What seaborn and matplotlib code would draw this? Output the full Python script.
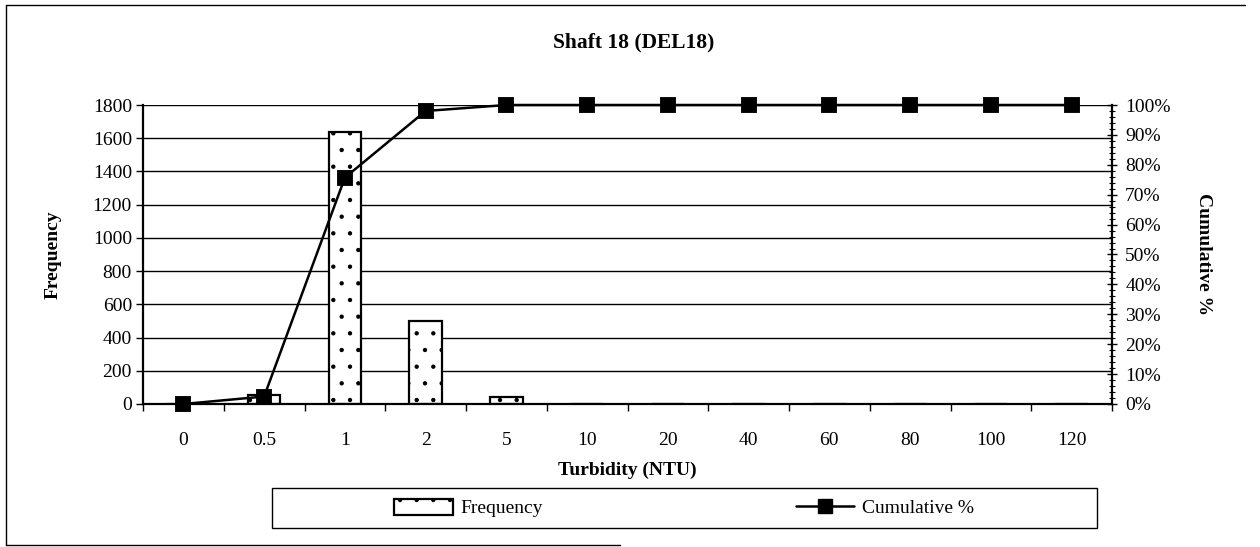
"""Turbidity histogram with cumulative % for Shaft 18 (DEL18)."""

import matplotlib

matplotlib.use("Agg")

import matplotlib.pyplot as plt
import seaborn as sns
from matplotlib.lines import Line2D
from matplotlib.patches import Patch, Rectangle
from matplotlib.ticker import MultipleLocator, PercentFormatter, FixedLocator


categories = ["0", "0.5", "1", "2", "5", "10", "20", "40", "60", "80", "100", "120"]
frequency = [0, 55, 1640, 500, 45, 0, 0, 0, 0, 0, 0, 0]
cumulative = [0.0, 0.025, 0.757, 0.980, 1.0, 1.0, 1.0, 1.0, 1.0, 1.0, 1.0, 1.0]
left_ticks = [0, 200, 400, 600, 800, 1000, 1200, 1400, 1600, 1800]

W, H = 1260, 547

sns.set_theme(style="white")
plt.rcParams["font.family"] = ["Liberation Serif", "DejaVu Serif"]
plt.rcParams["hatch.linewidth"] = 0.7
for key in ["text.color", "axes.labelcolor", "xtick.color", "ytick.color"]:
    plt.rcParams[key] = "black"

fig = plt.figure(figsize=(W / 100, H / 100), dpi=100)
# plot area in pixels: x 143..1112, y 105..404
ax = fig.add_axes([143 / W, 1 - 404 / H, (1112 - 143) / W, (404 - 105) / H])

sns.barplot(x=categories, y=frequency, ax=ax, color="white", edgecolor="black",
            linewidth=1.6, width=0.4, saturation=1)
for p in ax.patches:
    p.set_hatch(".")
    p.set_zorder(2)

ax.set_ylim(0, 1800)
ax.set_xlim(-0.5, len(categories) - 0.5)
ax.yaxis.set_major_locator(FixedLocator(left_ticks))
ax.grid(axis="y", color="black", linewidth=1.0)
ax.set_axisbelow(True)
for s in ["left", "bottom"]:
    ax.spines[s].set_color("black")
    ax.spines[s].set_linewidth(1.6)
ax.spines["top"].set_visible(False)
ax.spines["right"].set_visible(False)

ax.tick_params(axis="y", which="major", direction="out", length=5, width=1,
               color="black", labelsize=14, pad=3, left=True)
ax.tick_params(axis="x", which="major", length=0, labelsize=14, pad=20)
ax.xaxis.set_minor_locator(MultipleLocator(1, offset=0.5))
ax.tick_params(axis="x", which="minor", direction="out", length=5, width=1,
               color="black", bottom=True)
ax.set_xlabel("Turbidity (NTU)", fontsize=14, fontweight="bold", labelpad=9)
ax.set_ylabel("Frequency", fontsize=14, fontweight="bold", labelpad=22)

ax2 = ax.twinx()
sns.pointplot(x=categories, y=cumulative, ax=ax2, color="black", markers="s",
              linestyles="-", markersize=10, linewidth=1.8)
for art in ax2.lines + ax2.collections:
    art.set_clip_on(False)
    art.set_zorder(5)
ax2.set_xlim(-0.5, len(categories) - 0.5)
ax2.set_ylim(0, 1)
ax2.yaxis.set_major_locator(MultipleLocator(0.1))
ax2.yaxis.set_minor_locator(MultipleLocator(0.02))
ax2.yaxis.set_major_formatter(PercentFormatter(1.0, decimals=0))
ax2.tick_params(axis="y", which="major", direction="inout", length=7, width=1,
                color="black", labelsize=14, pad=6, right=True)
ax2.tick_params(axis="y", which="minor", direction="inout", length=4, width=0.8,
                color="black", right=True)
for s in ["left", "top", "bottom"]:
    ax2.spines[s].set_visible(False)
ax2.spines["right"].set_color("black")
ax2.spines["right"].set_linewidth(1.6)
ax2.set_ylabel("Cumulative %", fontsize=14, fontweight="bold", rotation=270,
               labelpad=30)
ax2.grid(False)

fig.text(634 / W, 1 - 42 / H, "Shaft 18 (DEL18)", ha="center", va="center",
         fontsize=15.5, fontweight="bold")

# legend box and entries
fig.add_artist(Rectangle((272 / W, 1 - 528 / H), (1097 - 272) / W, 40 / H,
                         transform=fig.transFigure, fill=False,
                         edgecolor="black", linewidth=1))
handles = [
    Patch(facecolor="white", edgecolor="black", hatch=".", linewidth=1.6),
    Line2D([], [], color="black", marker="s", markersize=10, linewidth=1.8),
]
fig.legend(handles, ["Frequency", "Cumulative %"], ncol=2, frameon=False,
           loc="center", bbox_to_anchor=(684 / W, 1 - 508 / H),
           fontsize=14, handlelength=3.0, handletextpad=0.4,
           columnspacing=13.0, handleheight=0.9)

# outer chart border (partly visible in the scan)
fig.add_artist(Line2D([6 / W, 1245 / W], [1 - 5 / H, 1 - 5 / H],
                      transform=fig.transFigure, color="black", linewidth=1))
fig.add_artist(Line2D([6 / W, 6 / W], [1 - 5 / H, 1 - 545 / H],
                      transform=fig.transFigure, color="black", linewidth=1))
fig.add_artist(Line2D([6 / W, 620 / W], [1 - 545 / H, 1 - 545 / H],
                      transform=fig.transFigure, color="black", linewidth=1))

fig.savefig("out.png", dpi=100)
